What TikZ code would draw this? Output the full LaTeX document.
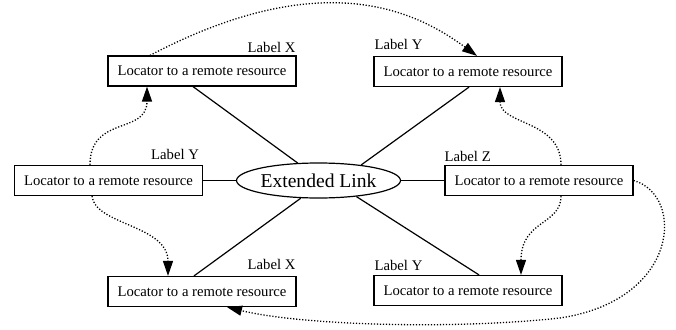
\documentclass[tikz,border=0pt]{standalone}
\usepackage{fontspec}
\setmainfont{Liberation Serif}
\usetikzlibrary{arrows.meta,shapes.geometric}
\begin{document}
\begin{tikzpicture}[x=1pt,y=-1pt,
 box/.style={draw,line width=1.2pt,rectangle,minimum width=188pt,minimum height=30pt,inner sep=0pt,font=\fontsize{14.7}{16}\selectfont},
 lbl/.style={inner sep=0pt,font=\fontsize{14.7}{16}\selectfont},
 hub/.style={draw,ellipse,line width=1.2pt,minimum width=143pt,minimum height=35pt,inner sep=0pt,font=\fontsize{19.6}{22}\selectfont},
 spoke/.style={line width=1.2pt},
 ref/.style={line width=1.3pt,dash pattern=on 1.2pt off 1.8pt,-{Triangle[length=15pt,width=10pt]}}]
\path[use as bounding box] (0,0) rectangle (676,329);

\node[box] (tl) at (202,71) {Locator to a remote resource};
\node[box] (tr) at (468,71.5) {Locator to a remote resource};
\node[box] (ml) at (108.5,180.5) {Locator to a remote resource};
\node[box] (mr) at (539,180.5) {Locator to a remote resource};
\node[box] (bl) at (202,291.5) {Locator to a remote resource};
\node[box] (br) at (468,290.5) {Locator to a remote resource};
\node[hub] (el) at (318.5,180.5) {Extended Link};

\node[lbl,anchor=base east] (ltl) at ([shift={(-1pt,3pt)}]tl.north east) {Label X};
\node[lbl,anchor=base west] (ltr) at ([shift={(1pt,6pt)}]tr.north west) {Label Y};
\node[lbl,anchor=base east] (lml) at ([shift={(-4pt,5.5pt)}]ml.north east) {Label Y};
\node[lbl,anchor=base west] (lmr) at ([shift={(0pt,3pt)}]mr.north west) {Label Z};
\node[lbl,anchor=base east] (lbl) at ([shift={(-1pt,6pt)}]bl.north east) {Label X};
\node[lbl,anchor=base west] (lbr) at ([shift={(1pt,4pt)}]br.north west) {Label Y};

\draw[spoke] ([xshift=-9pt]tl.south) -- (el.140);
\draw[spoke] ([xshift=1pt]tr.south) -- (el.20);
\draw[spoke] (ml.east) -- (el.west);
\draw[spoke] (el.east) -- (mr.west);
\draw[spoke] ([xshift=-8pt]bl.north) -- (el.225);
\draw[spoke] ([xshift=11pt]br.north) -- (el.337);

\draw[ref] ([xshift=-52pt]tl.north) .. controls (324,-36) and (417,12) .. ([xshift=9pt]tr.north);
\draw[ref] ([xshift=-18.5pt]ml.north) .. controls (90,115) and (147,135) .. ([xshift=-55pt]tl.south);
\draw[ref] ([xshift=-16.5pt]ml.south) .. controls (95,225) and (168,225) .. ([xshift=-34pt]bl.north);
\draw[ref] ([xshift=22pt]mr.north) .. controls (561,120) and (500,125) .. ([xshift=32pt]tr.south);
\draw[ref] ([xshift=22pt]mr.south) .. controls (561,225) and (521,220) .. ([xshift=53pt]br.north);
\draw[ref] (mr.east) .. controls (685,195) and (680,300) .. (560,318) .. controls (450,330) and (300,325) .. ([xshift=25pt]bl.south);
\end{tikzpicture}
\end{document}
